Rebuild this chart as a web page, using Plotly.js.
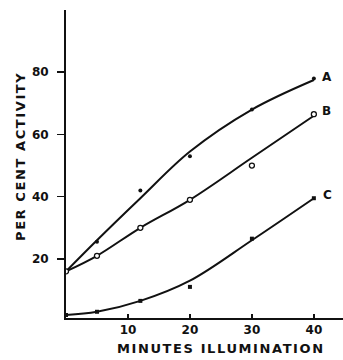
<!DOCTYPE html>
<html><head><meta charset="utf-8">
<script src="https://cdn.plot.ly/plotly-3.0.1.min.js"></script>
<style>html,body{margin:0;padding:0;background:#fff}#c{width:343px;height:360px}
.annotation-text{letter-spacing:1.6px}</style>
</head><body><div id="c"></div>
<script>
// measured points
const minutes = [0, 5, 12, 20, 30, 40];
const ptsA = [16, 25.5, 42, 53, 68, 78];
const ptsB = [16, 21, 30, 39, 50, 66.5];
const ptsC = [2, 3, 6.5, 11, 26.5, 39.5];
// drawn (smoothed) curves
const curveA = [16, 26, 39.5, 54.5, 68, 77.5];
const curveB = [16, 21, 30, 39, 52.5, 66];
const curveC = [2, 3, 6.5, 13, 26, 39.5];
const seriesLabels = ['A', 'B', 'C'];
const labelX = 42.2;
const labelY = [78.5, 67.5, 40.5];
const xTicks = [10, 20, 30, 40];
const yTicks = [20, 40, 60, 80];
const xTitle = 'MINUTES ILLUMINATION';
const yTitle = 'PER CENT ACTIVITY';

const font = 'DejaVu Sans, sans-serif';
const ink = '#111';
const line = {color: ink, width: 2, shape: 'spline', smoothing: 1};
const traces = [
  {x: minutes, y: curveA, mode: 'lines', line: line},
  {x: minutes, y: curveB, mode: 'lines', line: line},
  {x: minutes, y: curveC, mode: 'lines', line: line},
  {x: minutes, y: ptsA, mode: 'markers', marker: {color: ink, size: 4}},
  {x: minutes, y: ptsB, mode: 'markers', marker: {color: '#fff', size: 5, symbol: 'circle', line: {color: ink, width: 1.3}}},
  {x: minutes, y: ptsC, mode: 'markers', marker: {color: ink, size: 4, symbol: 'square'}}
];
const L = 66, T = 10, W = 277, H = 308;
const annots = seriesLabels.map((s, i) => ({
  x: labelX, y: labelY[i], xref: 'x', yref: 'y', text: s, showarrow: false,
  font: {family: font, size: 12, weight: 'bold', color: ink}, xanchor: 'center'
}));
annots.push({
  xref: 'paper', yref: 'paper', x: (221 - L) / W, y: (318 - 348) / H,
  text: xTitle, showarrow: false, xanchor: 'center', yanchor: 'middle',
  font: {family: font, size: 13, weight: 'bold', color: ink}
});
annots.push({
  xref: 'paper', yref: 'paper', x: (20 - L) / W, y: (318 - 157) / H,
  text: yTitle, showarrow: false, xanchor: 'center', yanchor: 'middle', textangle: -90,
  font: {family: font, size: 13, weight: 'bold', color: ink}
});
const layout = {
  width: 343, height: 360,
  margin: {l: L, r: 0, t: T, b: 42},
  paper_bgcolor: '#fff', plot_bgcolor: '#fff',
  showlegend: false,
  font: {family: font, color: ink},
  xaxis: {
    range: [0, 44.7], showgrid: false, zeroline: false,
    showline: true, linecolor: ink, linewidth: 2,
    tickvals: xTicks, ticktext: xTicks.map(String),
    ticks: 'inside', ticklen: 4, tickwidth: 1.5, tickcolor: ink,
    tickfont: {family: font, size: 12, weight: 'bold', color: ink}
  },
  yaxis: {
    range: [1, 100], showgrid: false, zeroline: false,
    showline: true, linecolor: ink, linewidth: 2,
    tickvals: yTicks, ticktext: yTicks.map(String),
    ticks: 'outside', ticklen: 7, tickwidth: 1.5, tickcolor: ink,
    ticklabelstandoff: 6,
    tickfont: {family: font, size: 12, weight: 'bold', color: ink}
  },
  annotations: annots
};
Plotly.newPlot('c', traces, layout, {staticPlot: true});
</script></body></html>
